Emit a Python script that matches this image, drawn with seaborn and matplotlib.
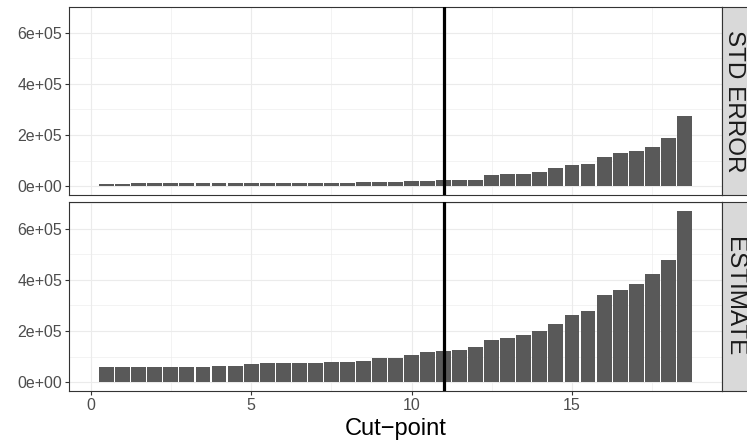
import pandas as pd
import matplotlib
matplotlib.use("Agg")
import matplotlib.pyplot as plt
import seaborn as sns
from matplotlib.ticker import FuncFormatter, MultipleLocator, FixedLocator

# values
cut_points = [0.5, 1.0, 1.5, 2.0, 2.5, 3.0, 3.5, 4.0, 4.5, 5.0, 5.5, 6.0, 6.5,
              7.0, 7.5, 8.0, 8.5, 9.0, 9.5, 10.0, 10.5, 11.0, 11.5, 12.0, 12.5,
              13.0, 13.5, 14.0, 14.5, 15.0, 15.5, 16.0, 16.5, 17.0, 17.5, 18.0, 18.5]

std_error = [9000, 9000, 13000, 13000, 13000, 13000, 13000, 13000, 13000, 13000,
             13000, 13000, 13000, 13000, 13000, 13000, 17000, 17000, 17000, 20000,
             20000, 24000, 24000, 27000, 46000, 50000, 50000, 58000, 70000, 85000,
             89000, 116000, 132000, 140000, 155000, 190000, 275000]

estimate = [62000, 62000, 62000, 62000, 62000, 62000, 62000, 66000, 66000, 70000,
            74000, 74000, 74000, 74000, 78000, 78000, 82000, 97000, 97000, 105000,
            117000, 123000, 128000, 140000, 164000, 175000, 183000, 199000, 226000,
            261000, 280000, 339000, 362000, 382000, 421000, 479000, 668000]

panels = ["STD ERROR", "ESTIMATE"]
x_ticks = [0, 5, 10, 15]
y_ticks = [0, 200000, 400000, 600000]
cut_line = 11

df = pd.DataFrame({
    "Cut": cut_points * 2,
    "value": std_error + estimate,
    "panel": [panels[0]] * len(cut_points) + [panels[1]] * len(cut_points),
})

sns.set_style("white")
plt.rcParams["font.family"] = ["Liberation Sans", "DejaVu Sans"]

W, H = 747, 441
fig = plt.figure(figsize=(W / 100, H / 100), dpi=100)

left, right = 69, 722
boxes = [(6.5, 195), (202.5, 391)]  # top/bottom pixel rows for each panel

ymax = max(df["value"])
ylim = (-0.05 * ymax, 1.05 * ymax)
span = max(cut_points) - min(cut_points) + 0.5
xlim = (min(cut_points) - 0.25 - 0.05 * span, max(cut_points) + 0.25 + 0.05 * span)

for i, name in enumerate(panels):
    top, bot = boxes[i]
    ax = fig.add_axes([left / W, 1 - bot / H, (right - left) / W, (bot - top) / H])
    sub = df[df["panel"] == name]
    sns.barplot(data=sub, x="Cut", y="value", native_scale=True, color="#595959",
                saturation=1, width=0.93, linewidth=0, errorbar=None, ax=ax)
    ax.axvline(cut_line, color="black", lw=2.3, zorder=5)

    ax.set_xlim(xlim)
    ax.set_ylim(ylim)
    ax.xaxis.set_major_locator(FixedLocator(x_ticks))
    ax.yaxis.set_major_locator(FixedLocator(y_ticks))
    ax.xaxis.set_minor_locator(MultipleLocator(2.5))
    ax.yaxis.set_minor_locator(MultipleLocator(100000))
    ax.yaxis.set_major_formatter(FuncFormatter(lambda v, p: f"{v:.0e}"))
    ax.set_axisbelow(True)
    ax.grid(which="major", color="#EBEBEB", lw=0.8)
    ax.grid(which="minor", color="#EBEBEB", lw=0.4)
    ax.set_xlabel("")
    ax.set_ylabel("")
    for s in ax.spines.values():
        s.set_color("#333333")
        s.set_linewidth(0.8)
    ax.tick_params(which="major", length=2.75, width=0.8, color="#333333",
                   labelcolor="#4D4D4D", labelsize=11.5, pad=2.2,
                   left=True, bottom=True)
    ax.tick_params(which="minor", length=0)
    if i == 0:
        ax.tick_params(axis="x", bottom=False, labelbottom=False)

    # facet strip on the right
    sax = fig.add_axes([right / W, 1 - bot / H, 32 / W, (bot - top) / H])
    sax.set_facecolor("#D9D9D9")
    sax.set_xticks([])
    sax.set_yticks([])
    for s in sax.spines.values():
        s.set_color("#333333")
        s.set_linewidth(0.8)
    fig.text(734 / W, 1 - (top + bot) / 2 / H, name, rotation=-90, ha="center",
             va="center", fontsize=17.5, color="#1A1A1A")

fig.text((left + right) / 2 / W, 1 - 435 / H, "Cut\u2212point", ha="center",
         va="baseline", fontsize=17, color="black")

fig.savefig("out.png", dpi=100)
